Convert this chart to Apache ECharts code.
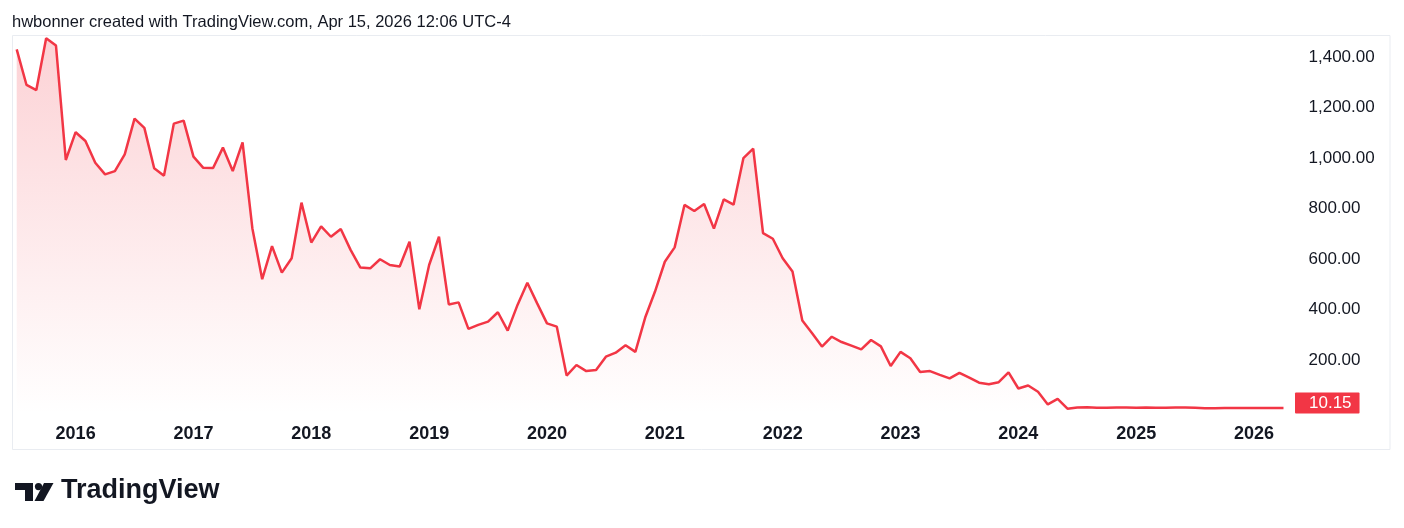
<!DOCTYPE html>
<html>
<head>
<meta charset="utf-8">
<script src="https://cdn.jsdelivr.net/npm/echarts@6/dist/echarts.min.js"></script>
<style>
  html, body { margin: 0; padding: 0; background: #fff; }
  #chart { width: 1404px; height: 528px; }
</style>
</head>
<body>
<div id="chart"></div>
<script>
// monthly close, Jul 2015 .. Apr 2026
var p2015 = [1430, 1289, 1269, 1474, 1445, 992]
var p2016 = [1102, 1067, 981, 935, 948, 1014, 1156, 1119, 959, 930, 1136, 1148]
var p2017 = [1005, 961, 960, 1041, 948, 1062, 721, 520, 651, 546, 603, 823]
var p2018 = [665, 729, 688, 719, 636, 566, 563, 599, 576, 570, 668, 401]
var p2019 = [576, 688, 420, 428, 323, 339, 352, 389, 316, 418, 506, 424]
var p2020 = [345, 332, 138, 180, 156, 160, 213, 229, 258, 232, 368, 471]
var p2021 = [589, 646, 814, 790, 818, 720, 836, 815, 999, 1037, 702, 680]
var p2022 = [603, 550, 356, 306, 253, 292, 271, 257, 242, 279, 254, 176]
var p2023 = [232, 207, 152, 156, 141, 127, 149, 130, 110, 104, 112, 151]
var p2024 = [87, 99, 74, 24, 46, 7, 12, 13, 11, 11, 12, 12]
var p2025 = [11, 12, 11, 11, 12, 12, 11, 9, 9, 10, 10, 10]
var p2026 = [10, 10, 10, 10.15]

var priceTicks = [200, 400, 600, 800, 1000, 1200, 1400]

var prices = [].concat(p2015, p2016, p2017, p2018, p2019, p2020, p2021, p2022, p2023, p2024, p2025, p2026)

// month categories 'YYYY-MM'
var months = []
var y = 2015, m = 7
for (var i = 0; i < prices.length; i++) {
  months.push(y + '-' + (m < 10 ? '0' + m : m))
  m++
  if (m > 12) { m = 1; y++ }
}

var FONT = '"Liberation Sans", Arial, sans-serif'
var RED = '#F23645'

var chart = echarts.init(document.getElementById('chart'))

var option = {
  animation: false,
  backgroundColor: '#ffffff',
  grid: {
    left: 16.7,
    right: 120.5,
    top: 36,
    bottom: 114
  },
  xAxis: {
    type: 'category',
    boundaryGap: false,
    data: months,
    axisLine: { show: false },
    axisTick: { show: false },
    splitLine: { show: false },
    axisLabel: {
      interval: function (idx, val) { return val.slice(5) === '01' },
      formatter: function (val) { return val.slice(0, 4) },
      color: '#131722',
      fontFamily: FONT,
      fontWeight: 'bold',
      fontSize: 18,
      margin: 11
    }
  },
  yAxis: {
    type: 'value',
    position: 'right',
    min: -14,
    max: 1483,
    splitLine: { show: false },
    axisLine: { show: false },
    axisTick: { show: false },
    axisLabel: {
      customValues: priceTicks,
      formatter: function (v) {
        return v.toLocaleString('en-US', { minimumFractionDigits: 2, maximumFractionDigits: 2 })
      },
      color: '#131722',
      fontFamily: FONT,
      fontSize: 17,
      margin: 25
    }
  },
  series: [
    {
      type: 'line',
      data: prices,
      symbol: 'none',
      lineStyle: { color: RED, width: 2.5 },
      areaStyle: {
        origin: 'start',
        color: new echarts.graphic.LinearGradient(0, 0, 0, 1, [
          { offset: 0, color: 'rgba(242,54,69,0.32)' },
          { offset: 1, color: 'rgba(242,54,69,0.0)' }
        ])
      },
      endLabel: {
        show: true,
        formatter: function (p) { return p.value.toFixed(2) },
        backgroundColor: RED,
        color: '#ffffff',
        fontFamily: FONT,
        fontSize: 17,
        padding: [2, 8, 2, 14],
        borderRadius: 1,
        distance: 11.5,
        offset: [0, -5]
      }
    }
  ],
  graphic: [
    {
      type: 'rect',
      silent: true,
      shape: { x: 12.5, y: 35.5, width: 1377.5, height: 414 },
      style: { fill: 'none', stroke: '#e9ecf1', lineWidth: 1 }
    },
    {
      type: 'text',
      left: 12,
      top: 14,
      style: {
        text: 'hwbonner created with TradingView.com, Apr 15, 2026 12:06 UTC-4',
        font: '16.5px ' + FONT,
        fill: '#131722'
      }
    },
    {
      type: 'group',
      left: 15,
      top: 477,
      children: [
        { type: 'rect', shape: { x: 0, y: 1, width: 18, height: 7 }, style: { fill: '#131722' } },
        { type: 'rect', shape: { x: 10, y: 1, width: 8, height: 18 }, style: { fill: '#131722' } },
        { type: 'circle', shape: { cx: 23.5, cy: 4.6, r: 3.6 }, style: { fill: '#131722' } },
        { type: 'polygon', shape: { points: [[29, 1], [38.5, 1], [28.5, 19], [19.5, 19]] }, style: { fill: '#131722' } },
        {
          type: 'text',
          x: 46,
          y: -5,
          style: { text: 'TradingView', font: 'bold 27px ' + FONT, fill: '#131722' }
        }
      ]
    }
  ]
}

chart.setOption(option)
</script>
</body>
</html>
